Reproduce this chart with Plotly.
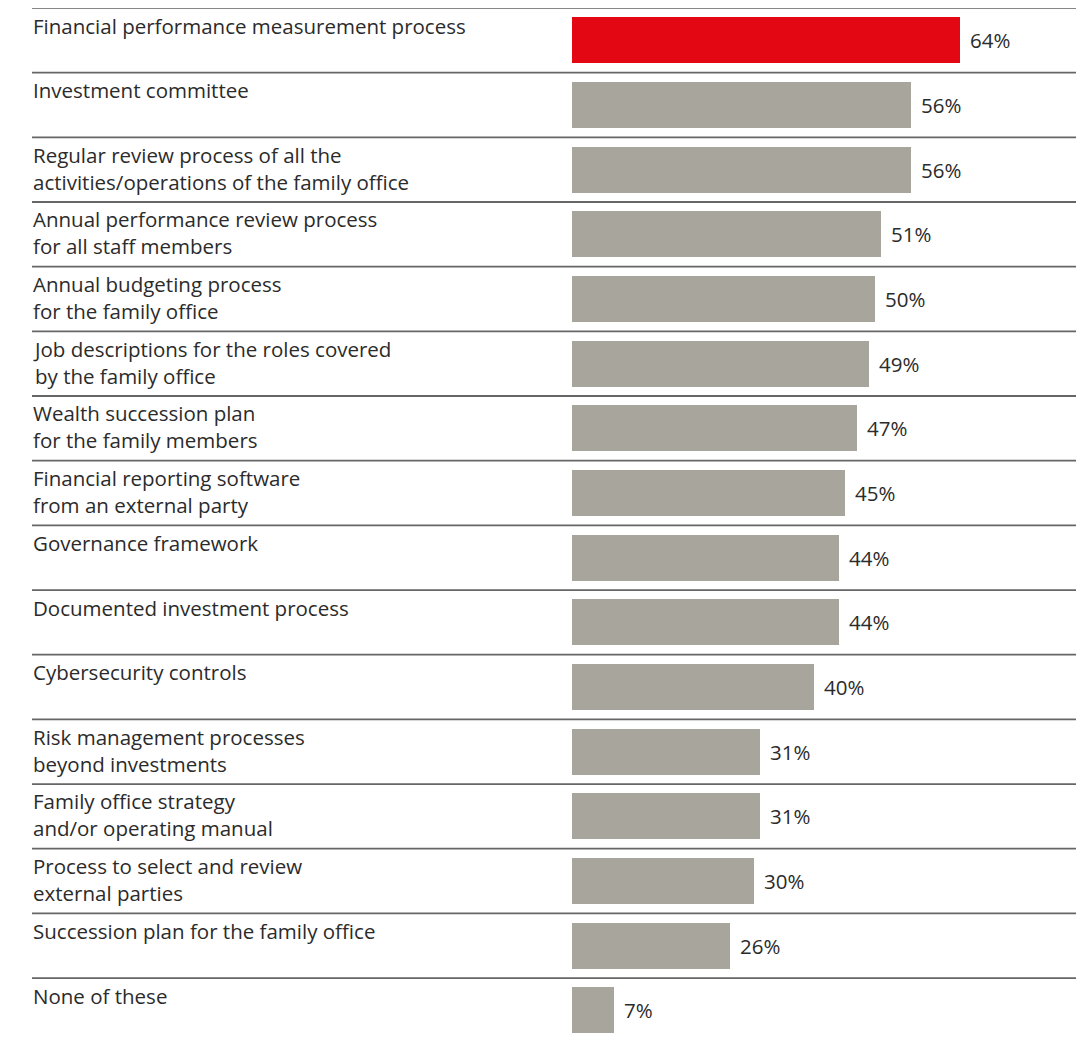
import plotly.graph_objects as go

categories = [
    "Financial performance measurement process",
    "Investment committee",
    "Regular review process of all the<br>activities/operations of the family office",
    "Annual performance review process<br>for all staff members",
    "Annual budgeting process<br>for the family office",
    "Job descriptions for the roles covered<br>by the family office",
    "Wealth succession plan<br>for the family members",
    "Financial reporting software<br>from an external party",
    "Governance framework",
    "Documented investment process",
    "Cybersecurity controls",
    "Risk management processes<br>beyond investments",
    "Family office strategy<br>and/or operating manual",
    "Process to select and review<br>external parties",
    "Succession plan for the family office",
    "None of these",
]
values = [64, 56, 56, 51, 50, 49, 47, 45, 44, 44, 40, 31, 31, 30, 26, 7]

RED = "#E30613"
GRAY = "#A8A59D"
TEXT = "#2b2b2b"
FONT = "Open Sans"
FSIZE = 20.5
LINE_H = 1.3 * FSIZE

# page has an 8px body margin; figure sized to fit the window
W, H = 1079, 1032
x0_px = 564          # pixel (in figure) where 0% sits
px_per = 6.06        # pixels per percentage point
row_px = 64.67

x_min = -x0_px / px_per
x_max = (W - x0_px) / px_per
y_top = -0.5
y_bot = -0.5 + H / row_px

n = len(categories)
ypos = list(range(n))
colors = [RED] + [GRAY] * (n - 1)

fig = go.Figure()
fig.add_trace(go.Bar(
    x=values, y=ypos, orientation="h",
    marker=dict(color=colors, line=dict(width=0)),
    width=0.71, hoverinfo="skip",
))

annotations = []
shapes = []
line_x0 = x_min + 24 / px_per
line_x1 = x_min + 1068 / px_per
label_x = x_min + 23 / px_per
for i, (c, v) in enumerate(zip(categories, values)):
    nlines = c.count("<br>") + 1
    annotations.append(dict(
        x=label_x, y=i - 0.5 + (17.5 + LINE_H * (nlines - 1) / 2) / row_px,
        xref="x", yref="y", text=c, showarrow=False,
        xanchor="left", yanchor="middle", align="left",
        font=dict(family=FONT, size=FSIZE, color=TEXT),
    ))
    annotations.append(dict(
        x=v, y=i, xref="x", yref="y", text=f"{v}%", showarrow=False,
        xanchor="left", yanchor="middle", xshift=8,
        font=dict(family=FONT, size=FSIZE, color=TEXT),
    ))
    shapes.append(dict(
        type="line", xref="x", yref="y", x0=line_x0, x1=line_x1,
        y0=i - 0.5, y1=i - 0.5,
        line=dict(color="#111111" if i == 0 else "#666666", width=1.2 if i == 0 else 1.8),
    ))

fig.update_layout(
    width=W, height=H,
    margin=dict(l=0, r=0, t=0, b=0),
    paper_bgcolor="white", plot_bgcolor="white",
    showlegend=False,
    xaxis=dict(range=[x_min, x_max], visible=False, fixedrange=True),
    yaxis=dict(range=[y_bot, y_top], visible=False, fixedrange=True),
    annotations=annotations, shapes=shapes,
    bargap=0,
)

fig.write_html("out.html")
